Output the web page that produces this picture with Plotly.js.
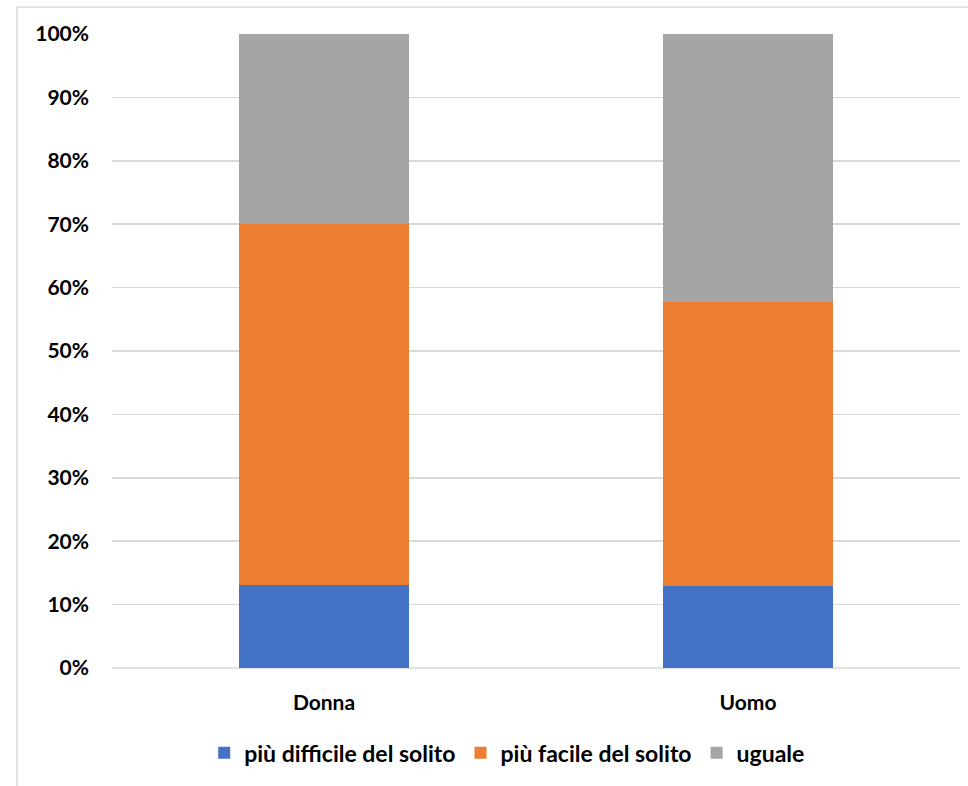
<!DOCTYPE html>
<html>
<head>
<meta charset="utf-8">
<script src="https://cdn.plot.ly/plotly-3.0.1.min.js"></script>
<style>html,body{margin:0;padding:0;background:#fff;}#chart{width:968px;height:786px;}</style>
</head>
<body>
<div id="chart"></div>
<script>
var categories = ["Donna", "Uomo"];
var seriesNames = ["più difficile del solito", "più facile del solito", "uguale"];
var difficile = [0.131, 0.130];
var facile = [0.570, 0.447];
var uguale = [0.299, 0.423];
var yTickVals = [0, 0.1, 0.2, 0.3, 0.4, 0.5, 0.6, 0.7, 0.8, 0.9, 1.0];
var yTickText = ["0%", "10%", "20%", "30%", "40%", "50%", "60%", "70%", "80%", "90%", "100%"];

var colors = ["#4472c4", "#ed7d31", "#a5a5a5"];
var values = [difficile, facile, uguale];
var traces = values.map(function (v, i) {
  return {
    type: "bar",
    x: categories,
    y: v,
    name: seriesNames[i],
    marker: { color: colors[i] },
    hoverinfo: "none"
  };
});

var font = { family: "Lato, 'Open Sans', sans-serif", size: 21, color: "#000", weight: "bold" };
var legendFont = { family: "Lato, 'Open Sans', sans-serif", size: 23, color: "#000", weight: "bold" };

var layout = {
  width: 968,
  height: 786,
  barmode: "stack",
  bargap: 0.6,
  paper_bgcolor: "#fff",
  plot_bgcolor: "#fff",
  margin: { l: 112, r: 8, t: 34, b: 118 },
  font: font,
  showlegend: true,
  legend: {
    orientation: "h",
    x: 0.466, xanchor: "center",
    y: -0.1, yanchor: "top",
    font: legendFont,
    traceorder: "normal",
    itemwidth: 30
  },
  xaxis: {
    type: "category",
    range: [-0.5, 1.5],
    showgrid: false,
    showline: false,
    zeroline: false,
    ticks: "",
    tickfont: font,
    ticklabelstandoff: 20
  },
  yaxis: {
    range: [0, 1],
    tickvals: yTickVals,
    ticktext: yTickText,
    showgrid: true,
    gridcolor: "#d9d9d9",
    gridwidth: 1.5,
    zeroline: false,
    showline: false,
    ticks: "",
    tickfont: font,
    ticklabelstandoff: 22
  },
  shapes: [
    {
      type: "line", xref: "paper", yref: "paper",
      x0: 0, x1: 1, y0: 0, y1: 0,
      line: { color: "#d9d9d9", width: 1.5 }, layer: "below"
    },
    {
      type: "rect", xref: "paper", yref: "paper",
      x0: -0.112, x1: 1.02, y0: -0.3, y1: 1.0426,
      line: { color: "#d9d9d9", width: 1.5 }, fillcolor: "rgba(0,0,0,0)"
    }
  ]
};

Plotly.newPlot("chart", traces, layout, { displayModeBar: false, staticPlot: true });
</script>
</body>
</html>
